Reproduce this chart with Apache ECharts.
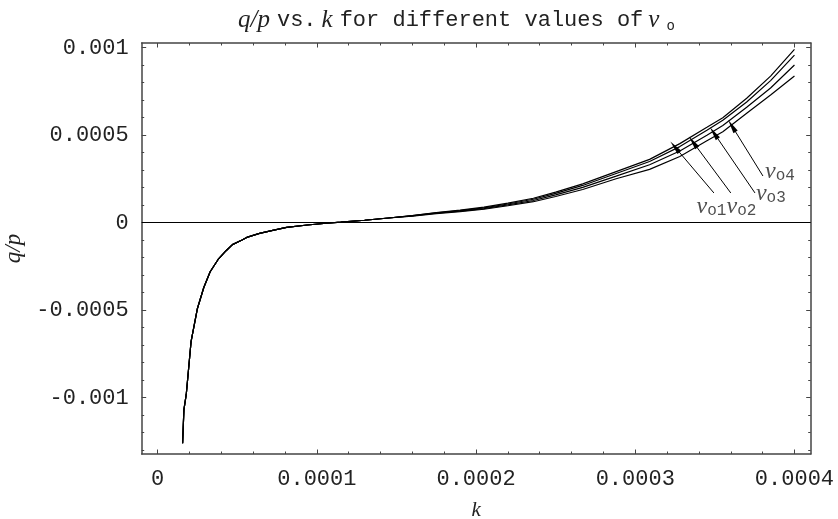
<!DOCTYPE html>
<html>
<head>
<meta charset="utf-8">
<script src="https://cdn.jsdelivr.net/npm/echarts@6/dist/echarts.min.js"></script>
<style>html,body{margin:0;padding:0;background:#fff;}#c{width:838px;height:519px;}</style>
</head>
<body>
<div id="c"></div>
<script>
// ---- data ----
const kValues = [0.0000157, 0.0000165, 0.000018, 0.000021, 0.000025, 0.000029, 0.000033, 0.000038, 0.000043, 0.000047,
  0.000053, 0.000056, 0.000064, 0.000073, 0.000081, 0.000094, 0.000106, 0.000115, 0.000130, 0.000145,
  0.000160, 0.000175, 0.000190, 0.000205, 0.000220, 0.000236, 0.000250, 0.000267, 0.000288, 0.000309,
  0.000328, 0.000345, 0.000355, 0.000370, 0.000385, 0.000400];
const qpV1 = [-0.00126, -0.00107, -0.00098, -0.00068, -0.00049, -0.00037, -0.00028, -0.00021, -0.00016, -0.000125,
  -0.000099, -0.000084, -0.000061, -0.000042, -0.000027, -0.000013, -0.000003, 0.000003, 0.000014, 0.000027,
  0.000041, 0.000058, 0.000072, 0.000089, 0.000112, 0.000140, 0.000175, 0.000222, 0.000292, 0.000362,
  0.000452, 0.000545, 0.000600, 0.000711, 0.000838, 0.000991];
const qpV2 = [-0.00126, -0.00107, -0.00098, -0.00068, -0.00049, -0.00037, -0.00028, -0.00021, -0.00016, -0.000125,
  -0.000099, -0.000084, -0.000061, -0.000042, -0.000027, -0.000013, -0.000003, 0.000003, 0.000014, 0.000027,
  0.000040, 0.000056, 0.000069, 0.000085, 0.000107, 0.000134, 0.000168, 0.000213, 0.000281, 0.000350,
  0.000435, 0.000528, 0.000585, 0.000690, 0.000812, 0.000958];
const qpV3 = [-0.00126, -0.00107, -0.00098, -0.00068, -0.00049, -0.00037, -0.00028, -0.00021, -0.00016, -0.000125,
  -0.000099, -0.000084, -0.000061, -0.000042, -0.000027, -0.000013, -0.000003, 0.000003, 0.000014, 0.000027,
  0.000039, 0.000054, 0.000066, 0.000081, 0.000102, 0.000127, 0.000159, 0.000202, 0.000266, 0.000331,
  0.000410, 0.000500, 0.000555, 0.000660, 0.000770, 0.000901];
const qpV4 = [-0.00126, -0.00107, -0.00098, -0.00068, -0.00049, -0.00037, -0.00028, -0.00021, -0.00016, -0.000125,
  -0.000099, -0.000084, -0.000061, -0.000042, -0.000027, -0.000013, -0.000003, 0.000003, 0.000014, 0.000027,
  0.000038, 0.000052, 0.000063, 0.000077, 0.000097, 0.000120, 0.000150, 0.000190, 0.000251, 0.000305,
  0.000378, 0.000468, 0.000520, 0.000625, 0.000730, 0.000838];

const kTicks = [0, 0.0001, 0.0002, 0.0003, 0.0004];
const kTickLabels = ['0', '0.0001', '0.0002', '0.0003', '0.0004'];
const kMinorTicks = [0.00002, 0.00004, 0.00006, 0.00008, 0.00012, 0.00014, 0.00016, 0.00018,
  0.00022, 0.00024, 0.00026, 0.00028, 0.00032, 0.00034, 0.00036, 0.00038];
const qpTicks = [-0.001, -0.0005, 0, 0.0005, 0.001];
const qpTickLabels = ['-0.001', '-0.0005', '0', '0.0005', '0.001'];
const qpMinorTicks = [-0.0013, -0.0012, -0.0011, -0.0009, -0.0008, -0.0007, -0.0006, -0.0004, -0.0003, -0.0002, -0.0001,
  0.0001, 0.0002, 0.0003, 0.0004, 0.0006, 0.0007, 0.0008, 0.0009];

const curveNames = ['1', '2', '3', '4'];
// arrows: [start k, start q/p, tip k, tip q/p]
const arrowStartK = [0.0003494, 0.000360, 0.0003752, 0.0003802];
const arrowStartQP = [0.000170, 0.000170, 0.000170, 0.000267];
const arrowTipK = [0.0003249, 0.0003363, 0.0003494, 0.0003607];
const arrowTipQP = [0.000433, 0.000461, 0.000513, 0.000553];
const labelK = [0.0003479, 0.0003667, 0.0003852, 0.0003909];
const labelQP = [0.0000897, 0.0000897, 0.000164, 0.000293];

// ---- chart ----
const MONO = "'Liberation Mono', 'Courier New', monospace";
const SERIF = "'Liberation Serif', 'Times New Roman', serif";
const TXT = '#222';
const FRAME = '#444';
const kMin = -0.00001, kMax = 0.0004102;
const qpMin = -0.0013217, qpMax = 0.001027;

function fmt(vals, labels) {
  return function (v) {
    for (let i = 0; i < vals.length; i++) if (Math.abs(v - vals[i]) < 1e-10) return labels[i];
    return '';
  };
}

function xAx(pos, major, withLabels, showLine) {
  return {
    type: 'value', position: pos, min: kMin, max: kMax, gridIndex: 0,
    axisLine: { show: showLine, onZero: false, lineStyle: { color: FRAME, width: 1.5 } },
    axisTick: { show: true, inside: true, length: major ? 4.5 : 2.5,
      customValues: major ? kTicks : kMinorTicks, lineStyle: { color: FRAME, width: 1 } },
    axisLabel: withLabels ? { show: true, customValues: kTicks, formatter: fmt(kTicks, kTickLabels),
      fontFamily: MONO, fontSize: 22, color: TXT, margin: 14 } : { show: false },
    splitLine: { show: false },
    name: withLabels ? 'k' : '', nameLocation: 'middle', nameGap: 46,
    nameTextStyle: { fontFamily: SERIF, fontStyle: 'italic', fontSize: 21, color: TXT }
  };
}
function yAx(pos, major, withLabels, showLine) {
  return {
    type: 'value', position: pos, min: qpMin, max: qpMax, gridIndex: 0,
    axisLine: { show: showLine, onZero: false, lineStyle: { color: FRAME, width: 1.5 } },
    axisTick: { show: true, inside: true, length: major ? 4.5 : 2.5,
      customValues: major ? qpTicks : qpMinorTicks, lineStyle: { color: FRAME, width: 1 } },
    axisLabel: withLabels ? { show: true, customValues: qpTicks, formatter: fmt(qpTicks, qpTickLabels),
      fontFamily: MONO, fontSize: 22, color: TXT, margin: 13 } : { show: false },
    splitLine: { show: false },
    name: withLabels ? 'q/p' : '', nameLocation: 'middle', nameGap: 106, nameRotate: 90,
    nameTextStyle: { fontFamily: SERIF, fontStyle: 'italic', fontSize: 23, color: TXT }
  };
}

const curves = [qpV1, qpV2, qpV3, qpV4];
const series = curves.map(function (vals, i) {
  return {
    type: 'line', name: 'v_o' + curveNames[i], xAxisIndex: 0, yAxisIndex: 0,
    data: kValues.map(function (k, j) { return [k, vals[j]]; }),
    showSymbol: false, symbol: 'none', smooth: false, silent: true,
    lineStyle: { color: '#000', width: 1.2 }, z: 3
  };
});
series[0].markLine = {
  silent: true, symbol: ['none', 'none'], label: { show: false },
  lineStyle: { color: '#000', width: 1.2, type: 'solid' },
  data: [{ yAxis: 0 }], animation: false
};
series[3].markLine = {
  silent: true, symbol: ['none', 'triangle'], symbolSize: [5, 14], label: { show: false },
  lineStyle: { color: '#000', width: 1, type: 'solid' }, itemStyle: { color: '#000' },
  animation: false,
  data: arrowStartK.map(function (k, i) {
    return [{ coord: [k, arrowStartQP[i]] }, { coord: [arrowTipK[i], arrowTipQP[i]] }];
  })
};
series.push({
  type: 'scatter', xAxisIndex: 0, yAxisIndex: 0, symbolSize: 0, silent: true,
  data: labelK.map(function (k, i) { return { value: [k, labelQP[i]], name: curveNames[i] }; }),
  label: {
    show: true, position: 'inside',
    formatter: function (p) { return '{v|v}{s|o' + p.name + '}'; },
    rich: {
      v: { fontFamily: SERIF, fontStyle: 'italic', fontSize: 24, color: TXT, lineHeight: 24 },
      s: { fontFamily: MONO, fontSize: 16, color: TXT, lineHeight: 16, verticalAlign: 'bottom', padding: [12, 0, 0, 0] }
    }
  }
});

const chart = echarts.init(document.getElementById('c'), null, { renderer: 'canvas' });
chart.setOption({
  animation: false,
  backgroundColor: '#fff',
  title: {
    text: '{i|q/p}{m|vs.}{i|k}{m|for different values of}{i|v}{sub|o}',
    left: 228, top: 2,
    textStyle: {
      fontWeight: 'normal',
      rich: {
        i: { fontFamily: SERIF, fontStyle: 'italic', fontWeight: 'normal', fontSize: 25, color: TXT, padding: [0, 7, 0, 5] },
        m: { fontFamily: MONO, fontWeight: 'normal', fontSize: 22, color: TXT },
        sub: { fontFamily: MONO, fontWeight: 'normal', fontSize: 14, color: TXT, verticalAlign: 'bottom', padding: [12, 0, 0, 0] }
      }
    }
  },
  grid: { left: 141.7, right: 27.3, top: 43, bottom: 65, containLabel: false, outerBoundsMode: 'none' },
  xAxis: [xAx('bottom', true, true, true), xAx('bottom', false, false, false),
          xAx('top', true, false, true), xAx('top', false, false, false)],
  yAxis: [yAx('left', true, true, true), yAx('left', false, false, false),
          yAx('right', true, false, true), yAx('right', false, false, false)],
  series: series
});
</script>
</body>
</html>
